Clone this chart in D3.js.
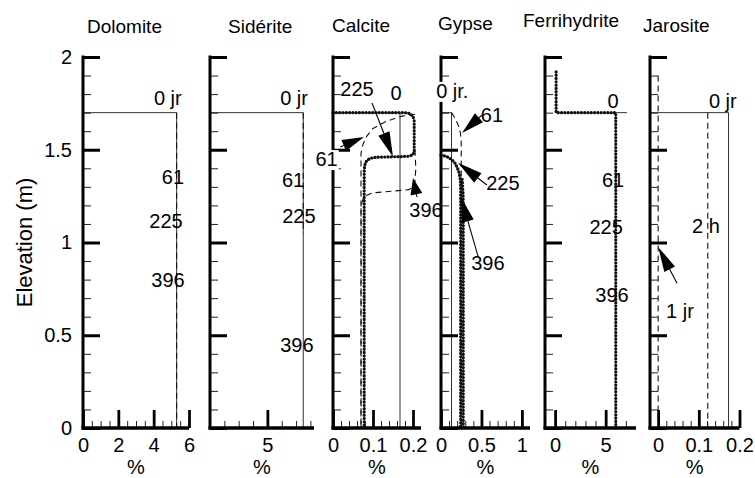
<!DOCTYPE html>
<html>
<head>
<meta charset="utf-8">
<script src="https://cdn.jsdelivr.net/npm/d3@7"></script>
<style>
  html, body { margin: 0; padding: 0; background: #fff; }
  svg { display: block; }
</style>
</head>
<body>
<script>
// ---- Data -------------------------------------------------------------
const minerals = ["Dolomite", "Sidérite", "Calcite", "Gypse", "Ferrihydrite", "Jarosite"];

const elevTicks = [0, 0.5, 1, 1.5, 2];
const elevMinor = [0.1, 0.2, 0.3, 0.4, 0.6, 0.7, 0.8, 0.9, 1.1, 1.2, 1.3, 1.4, 1.6, 1.7, 1.8, 1.9];

const xDomains = [[0, 6], [1, 8.25], [0, 0.22], [0, 1.1], [-1, 8], [-0.02, 0.2]];
const xMajorTicks = [[0, 2, 4, 6], [5], [0, 0.1, 0.2], [0, 0.5, 1], [0, 5], [0, 0.1, 0.2]];
const xMinorTicks = [
  [0.5, 1, 1.5, 2.5, 3, 3.5, 4.5, 5, 5.5],
  [2, 3, 4, 6, 7, 8],
  [0.02, 0.04, 0.06, 0.08, 0.12, 0.14, 0.16, 0.18],
  [0.1, 0.2, 0.3, 0.4, 0.6, 0.7, 0.8, 0.9],
  [1, 2, 3, 4, 6, 7],
  [0.02, 0.04, 0.06, 0.08, 0.12, 0.14, 0.16, 0.18]
];

// profiles: [percent, elevation]
const dolomite0 = [[0, 1.7], [5.3, 1.7], [5.3, 0]];
const dolomiteLate = [[5.3, 1.7], [5.3, 0]];

const siderite0 = [[1, 1.7], [7.5, 1.7], [7.5, 0]];
const sideriteLate = [[7.5, 1.7], [7.5, 1.05]];

const calcite0 = [[0, 1.7], [0.1675, 1.7], [0.1675, 0]];
const calcite61 = [[0.205, 1.69], [0.17, 1.68], [0.13, 1.65], [0.1, 1.615], [0.085, 1.575], [0.075, 1.53],
                   [0.07, 1.48], [0.07, 0]];
const calcite225 = [[0, 1.7], [0.18, 1.7], [0.193, 1.695], [0.2, 1.68], [0.203, 1.66], [0.203, 1.49],
                    [0.2, 1.473], [0.19, 1.465], [0.17, 1.463], [0.11, 1.46], [0.095, 1.455], [0.086, 1.445],
                    [0.081, 1.43], [0.079, 1.41], [0.078, 1.38], [0.078, 0]];
const calcite396 = [[0.205, 1.5], [0.207, 1.4], [0.205, 1.33], [0.2, 1.3], [0.19, 1.285], [0.15, 1.277],
                    [0.1, 1.268], [0.085, 1.255], [0.075, 1.235], [0.07, 1.2], [0.07, 0]];

const gypse0 = [[0, 1.7], [0.13, 1.7], [0.13, 0]];
const gypse61 = [[0.13, 1.7], [0.18, 1.665], [0.22, 1.625], [0.24, 1.59], [0.25, 1.55], [0.25, 0]];
const gypse225 = [[0, 1.47], [0.06, 1.466], [0.13, 1.448], [0.17, 1.43], [0.2, 1.405], [0.225, 1.375],
                  [0.238, 1.34], [0.243, 1.3], [0.243, 0]];
const gypse396 = [[0.262, 1.34], [0.272, 1.27], [0.275, 1.22], [0.275, 0]];

const ferri0 = [[6, 1.7], [7.1, 1.7]];
const ferriLate = [[0.1, 1.92], [0.1, 1.7], [6, 1.7], [6, 0]];

const jarosite0 = [[-0.02, 1.7], [0.173, 1.7], [0.173, 0]];
const jarosite2h = [[0.122, 1.7], [0.122, 0]];
const jarosite1 = [[0, 1.9], [0, 0]];

const profiles = [
  [{ pts: dolomite0, style: "solid" }, { pts: dolomiteLate, style: "dashed" }],
  [{ pts: siderite0, style: "solid" }, { pts: sideriteLate, style: "dashed" }],
  [{ pts: calcite0, style: "solid" }, { pts: calcite61, style: "dashed" },
   { pts: calcite396, style: "dashed" }, { pts: calcite225, style: "dotted" }],
  [{ pts: gypse0, style: "solid" }, { pts: gypse61, style: "dashed" },
   { pts: gypse225, style: "dotted" }, { pts: gypse396, style: "dotted" }],
  [{ pts: ferri0, style: "solid" }, { pts: ferriLate, style: "dotted" }],
  [{ pts: jarosite0, style: "solid" }, { pts: jarosite2h, style: "dashed" }, { pts: jarosite1, style: "dashed" }]
];

// time labels: text, percent, elevation (baseline), white backing
const dolomiteLabels = [["0 jr", 4.8, 1.74], ["61", 5.09, 1.315], ["225", 4.7, 1.078], ["396", 4.81, 0.76]];
const sideriteLabels = [["0 jr", 6.86, 1.74], ["61", 6.79, 1.30], ["225", 7.2, 1.105], ["396", 7.06, 0.41]];
const calciteLabels = [["225", 0.06, 1.79], ["0", 0.1575, 1.768], ["61", -0.016, 1.412, true], ["396", 0.2325, 1.137]];
const gypseLabels = [["0 jr.", 0.14, 1.78, true], ["61", 0.63, 1.65], ["225", 0.765, 1.283], ["396", 0.58, 0.852]];
const ferriLabels = [["0", 5.73, 1.725], ["61", 5.73, 1.30], ["225", 5.05, 1.046], ["396", 5.63, 0.68]];
const jarositeLabels = [["0 jr", 0.159, 1.725], ["2 h", 0.1176, 1.05], ["1 jr", 0.0537, 0.593]];
const labels = [dolomiteLabels, sideriteLabels, calciteLabels, gypseLabels, ferriLabels, jarositeLabels];

// arrows: [tail percent, tail elev, tip percent, tip elev]
const calciteArrows = [[0.0975, 1.752, 0.15, 1.462], [0.018, 1.515, 0.0775, 1.569], [0.21, 1.245, 0.2, 1.348]];
const gypseArrows = [[0.506, 1.687, 0.26, 1.59], [0.568, 1.31, 0.21, 1.43], [0.457, 0.927, 0.247, 1.245]];
const jarositeArrows = [[0.0464, 0.78, 0.0, 0.976]];
const arrows = [[], [], calciteArrows, gypseArrows, [], jarositeArrows];

// ---- Layout -----------------------------------------------------------
const W = 755, H = 478;
const FONT = "'Liberation Sans', Arial, Helvetica, sans-serif";
const panelX0 = [83, 210, 333, 441, 545, 650];
const panelX1 = [189, 314, 421, 530, 636, 739.5];
const titleX = [87, 228, 332, 438, 523, 643];
const titleY = [33, 33, 32, 30, 27, 32];

const y = d3.scaleLinear().domain([0, 2]).range([428, 57]);
const fmt = d3.format("~g");

const svg = d3.select("body").append("svg").attr("width", W).attr("height", H)
  .attr("font-family", FONT);
svg.append("rect").attr("width", W).attr("height", H).attr("fill", "#fff");

const lineStyles = {
  solid:  { w: 1.0, dash: null, color: "#333", cap: "butt" },
  dashed: { w: 1.1, dash: "6,4", color: "#111", cap: "butt" },
  dotted: { w: 3.2, dash: "0.1,3.2", color: "#111", cap: "round" }
};

minerals.forEach((name, i) => {
  const x = d3.scaleLinear().domain(xDomains[i]).range([panelX0[i], panelX1[i]]);
  const g = svg.append("g");

  // profiles
  const line = d3.line().x(d => x(d[0])).y(d => y(d[1]));
  profiles[i].forEach(p => {
    const s = lineStyles[p.style];
    g.append("path").attr("d", line(p.pts)).attr("fill", "none")
      .attr("stroke", s.color).attr("stroke-width", s.w)
      .attr("stroke-dasharray", s.dash).attr("stroke-linecap", s.cap)
      .attr("stroke-linejoin", "round");
  });

  // x axis: minor then major
  const gxm = g.append("g").attr("transform", `translate(0,${y(0)})`)
    .call(d3.axisBottom(x).tickValues(xMinorTicks[i]).tickSize(-7).tickFormat("").tickSizeOuter(0));
  gxm.select(".domain").remove();
  gxm.selectAll(".tick line").attr("stroke", "#222").attr("stroke-width", 1);

  const gx = g.append("g").attr("transform", `translate(0,${y(0)})`)
    .call(d3.axisBottom(x).tickValues(xMajorTicks[i]).tickSize(-18).tickPadding(10)
      .tickFormat(fmt).tickSizeOuter(0));
  gx.select(".domain").attr("stroke", "#000").attr("stroke-width", 3.5)
    .attr("d", `M${panelX0[i] - 1.5},0H${panelX1[i]}`);
  gx.selectAll(".tick line").attr("stroke", "#000").attr("stroke-width", 2.8);
  gx.selectAll(".tick text").attr("font-size", 20).attr("font-family", FONT).attr("fill", "#000");

  // y axis: minor then major
  const gym = g.append("g").attr("transform", `translate(${panelX0[i]},0)`)
    .call(d3.axisLeft(y).tickValues(elevMinor).tickSize(-8).tickFormat("").tickSizeOuter(0));
  gym.select(".domain").remove();
  gym.selectAll(".tick line").attr("stroke", "#222").attr("stroke-width", 1);

  const gy = g.append("g").attr("transform", `translate(${panelX0[i]},0)`)
    .call(d3.axisLeft(y).tickValues(elevTicks).tickSize(-17).tickPadding(11)
      .tickFormat(i === 0 ? fmt : "").tickSizeOuter(0));
  gy.select(".domain").attr("stroke", "#000").attr("stroke-width", 3)
    .attr("d", `M0,${y(0) + 1.5}V${y(2) - 1.5}`);
  gy.selectAll(".tick line").attr("stroke", "#000").attr("stroke-width", 3);
  gy.selectAll(".tick text").attr("font-size", 20).attr("font-family", FONT).attr("fill", "#000");

  // title
  g.append("text").attr("x", titleX[i]).attr("y", titleY[i]).attr("font-size", 19)
    .attr("fill", "#000").text(name);

  // unit label
  g.append("text").attr("x", (panelX0[i] + panelX1[i]) / 2).attr("y", 474)
    .attr("text-anchor", "middle").attr("font-size", 20).attr("fill", "#000").text("%");

  // time labels
  labels[i].forEach(([t, v, e, bg]) => {
    const txt = g.append("text").attr("x", x(v)).attr("y", y(e)).attr("text-anchor", "middle")
      .attr("font-size", 20).attr("fill", "#000").text(t);
    if (bg) {
      const b = txt.node().getBBox();
      g.insert("rect", () => txt.node())
        .attr("x", b.x - 1).attr("y", b.y + 2).attr("width", b.width + 2).attr("height", b.height - 2)
        .attr("fill", "#fff");
    }
  });

  // arrows
  arrows[i].forEach(([v0, e0, v1, e1]) => {
    const x0 = x(v0), y0 = y(e0), x1 = x(v1), y1 = y(e1);
    const dx = x1 - x0, dy = y1 - y0, len = Math.hypot(dx, dy);
    const ux = dx / len, uy = dy / len;
    const hl = Math.min(25, len * 0.85), hw = 6;
    const bx = x1 - ux * hl, by = y1 - uy * hl;
    g.append("line").attr("x1", x0).attr("y1", y0).attr("x2", bx).attr("y2", by)
      .attr("stroke", "#000").attr("stroke-width", 1.1);
    g.append("path")
      .attr("d", `M${x1},${y1}L${bx - uy * hw},${by + ux * hw}L${bx + uy * hw},${by - ux * hw}Z`)
      .attr("fill", "#000");
  });
});

// shared vertical axis title
svg.append("text").attr("transform", `translate(24,${(y(0) + y(2)) / 2}) rotate(-90)`)
  .attr("text-anchor", "middle").attr("dominant-baseline", "central")
  .attr("font-size", 22).attr("fill", "#000").text("Elevation (m)");
</script>
</body>
</html>
